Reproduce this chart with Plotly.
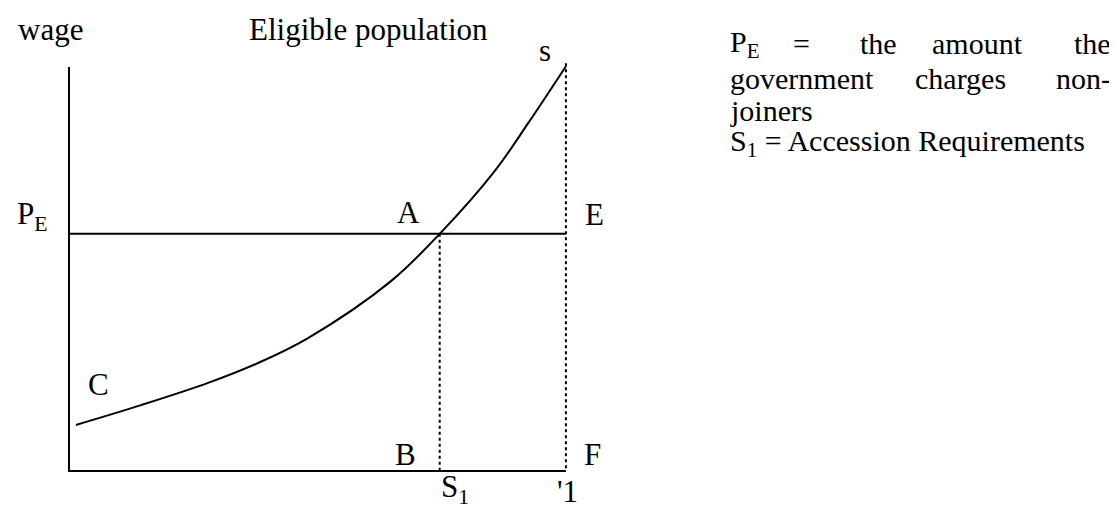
import plotly.graph_objects as go

# supply curve of the eligible population (quantity, wage)
supply_q = [1.4, 14.5, 28, 38, 48.1, 64.8, 74.6, 85.7, 92.4, 100]
supply_w = [11.4, 16.3, 21.8, 26.7, 32.9, 47.0, 58.7, 74.3, 86.1, 100.2]

p_e = 58.7        # price charged to non-joiners
s1 = 74.6         # accession requirements
q_total = 100     # whole eligible population
w_top = 100       # top of wage axis

point_labels = ["A", "B", "C", "E", "F"]
point_q = [68.4, 67.8, 6.0, 105.8, 105.4]
point_w = [63.9, 4.2, 21.3, 63.6, 4.2]

FONT = "Liberation Serif, Times New Roman, serif"

fig = go.Figure()

# axes
fig.add_trace(go.Scatter(x=[0, 0, q_total], y=[w_top, 0, 0], mode="lines",
                         line=dict(color="black", width=2)))
# P_E line
fig.add_trace(go.Scatter(x=[0, q_total], y=[p_e, p_e], mode="lines",
                         line=dict(color="black", width=2)))
# dotted verticals
fig.add_trace(go.Scatter(x=[s1, s1], y=[p_e, 0], mode="lines",
                         line=dict(color="black", width=2, dash="dot")))
fig.add_trace(go.Scatter(x=[q_total, q_total], y=[supply_w[-1] + 0.7, 0], mode="lines",
                         line=dict(color="black", width=2, dash="dot")))
# supply curve
fig.add_trace(go.Scatter(x=supply_q, y=supply_w, mode="lines",
                         line=dict(color="black", width=2, shape="spline", smoothing=1)))

ann = dict(showarrow=False, font=dict(family=FONT, size=31, color="black"))
for lab, q, w in zip(point_labels, point_q, point_w):
    fig.add_annotation(x=q, y=w, text=lab, **ann)
fig.add_annotation(x=-3.8, y=109.2, text="wage", **ann)
fig.add_annotation(x=60.2, y=109.2, text="Eligible population", **ann)
fig.add_annotation(x=95.8, y=104.2, text="s", **ann)
fig.add_annotation(x=-7.4, y=63.1, text="P<sub>E</sub>", **ann)
fig.add_annotation(x=77.7, y=-4.4, text="S<sub>1</sub>", **ann)
fig.add_annotation(x=100.4, y=-5.0, text="'1", **ann)

# note on the right, justified word by word
W, H = 1117, 508
note = dict(showarrow=False, xref="paper", yref="paper", yanchor="middle",
            font=dict(family=FONT, size=30, color="black"))
line1 = [("P<sub>E</sub>", 720, "left"), ("=", 783, "left"), ("the", 850, "left"),
         ("amount", 922, "left"), ("the", 1105, "right")]
line2 = [("government", 720, "left"), ("charges", 905, "left"), ("non-", 1105, "right")]
for words, py in [(line1, 36), (line2, 71)]:
    for txt, px, anc in words:
        fig.add_annotation(x=px / W, y=1 - py / H, text=txt, xanchor=anc, **note)
fig.add_annotation(x=720 / W, y=1 - 103 / H, text="joiners", xanchor="left", **note)
fig.add_annotation(x=720 / W, y=1 - 135 / H, text="S<sub>1</sub> = Accession Requirements",
                   xanchor="left", **note)

fig.update_xaxes(visible=False, range=[-12.27, 212.5])
fig.update_yaxes(visible=False, range=[-11.14, 114.6])
fig.update_layout(width=W, height=H, margin=dict(l=0, r=0, t=0, b=0),
                  plot_bgcolor="white", paper_bgcolor="white", showlegend=False)

fig.write_html("out.html")
